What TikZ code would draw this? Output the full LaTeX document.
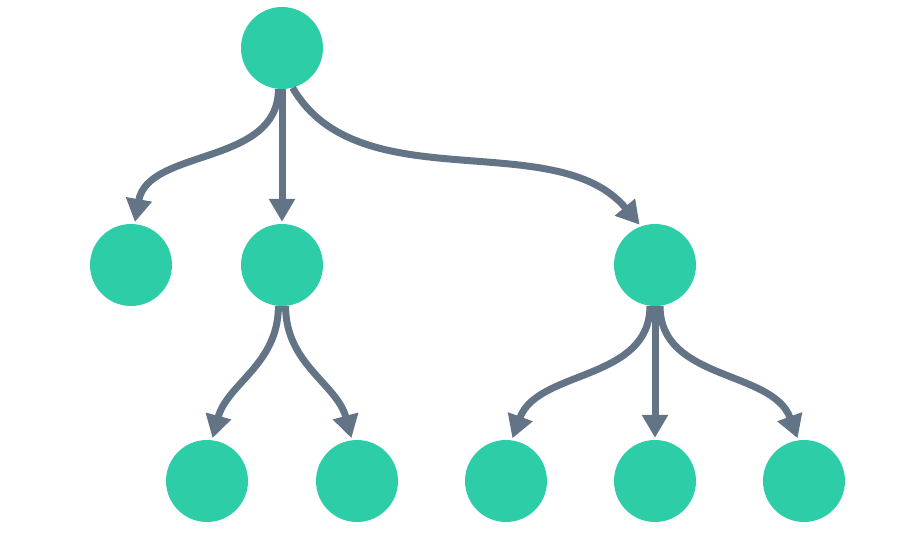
\documentclass[tikz,border=0pt]{standalone}
\usepackage{tikz}
\usetikzlibrary{arrows.meta,positioning}
\definecolor{leafgreen}{RGB}{45,206,167}
\definecolor{edgegray}{RGB}{99,116,135}

\begin{document}
\begin{tikzpicture}[
  x=1pt, y=1pt,
  vertex/.style={circle, fill=leafgreen, minimum size=82pt, inner sep=0pt},
  edge/.style={draw=edgegray, line width=7pt, shorten >=2pt,
               -{Triangle[length=23pt,width=25pt]}}
]
\useasboundingbox (0,0) rectangle (908,-536);

% levels of the tree
\node[vertex] (root) at (282,-48) {};
\node[vertex] (left)  at (131,-265) {};
\node[vertex] (mid)   at (282,-265) {};
\node[vertex] (right) at (655,-265) {};
\node[vertex] (midA)  at (207,-481) {};
\node[vertex] (midB)  at (357,-481) {};
\node[vertex] (rightA) at (506,-481) {};
\node[vertex] (rightB) at (655,-481) {};
\node[vertex] (rightC) at (804,-481) {};

% root to first level
\draw[edge] (root.-95) to[out=-90, in=80] (left.85);
\draw[edge] (root) -- (mid);
\draw[edge] (root.-75) to[out=-60, in=130, looseness=0.9] (right.110);

% first level to leaves
\draw[edge] (mid.-95) to[out=-90, in=75] (midA.83);
\draw[edge] (mid.-85) to[out=-90, in=105] (midB.97);
\draw[edge] (right.-97) to[out=-90, in=70] (rightA.82);
\draw[edge] (right) -- (rightB);
\draw[edge] (right.-83) to[out=-90, in=110] (rightC.98);
\end{tikzpicture}
\end{document}
